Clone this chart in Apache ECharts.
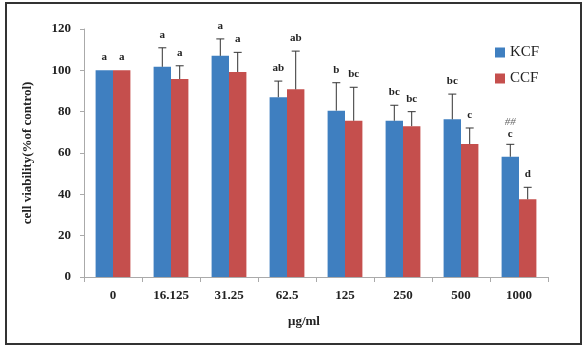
<!DOCTYPE html>
<html>
<head>
<meta charset="utf-8">
<script src="https://cdn.jsdelivr.net/npm/echarts@6/dist/echarts.min.js"></script>
<style>
  html, body { margin: 0; padding: 0; background: #fff; }
  #main { width: 587px; height: 348px; }
</style>
</head>
<body>
<div id="main"></div>
<script>
// 数据
var doses = ['0', '16.125', '31.25', '62.5', '125', '250', '500', '1000'];
var kcfValues = [100, 101.7, 107, 87, 80.5, 75.6, 76.3, 58.2];
var ccfValues = [100, 95.8, 99.2, 90.8, 75.6, 73, 64.3, 37.6];
var kcfErrors = [0, 9.2, 8.2, 7.8, 13.5, 7.5, 12.2, 6];
var ccfErrors = [0, 6.4, 9.5, 18.5, 16.2, 7, 7.8, 5.8];
var kcfLetters = ['a', 'a', 'a', 'ab', 'b', 'bc', 'bc', 'c'];
var ccfLetters = ['a', 'a', 'a', 'ab', 'bc', 'bc', 'c', 'd'];
var kcfMarks = ['', '', '', '', '', '', '', '##'];
var yTicks = [0, 20, 40, 60, 80, 100, 120];

var serif = '"Liberation Serif", "DejaVu Serif", serif';
var catGapPct = 40; // barCategoryGap

(function () {
    var chart = echarts.init(document.getElementById('main'));

    // 误差线 + 字母标注
    function errorSeries(name, values, errors, letters, marks, side) {
        var data = [];
        for (var i = 0; i < values.length; i++) {
            data.push([i, values[i], errors[i], letters[i], marks ? marks[i] : '']);
        }
        return {
            name: name + '-err',
            type: 'custom',
            z: 5,
            silent: true,
            renderItem: function (params, api) {
                var idx = api.value(0);
                var val = api.value(1);
                var err = api.value(2);
                var band = api.size([1, 0])[0];
                var barW = band * (1 - catGapPct / 100) / 2;
                var base = api.coord([idx, val]);
                var x = base[0] + side * barW / 2;
                var top = api.coord([idx, val + err])[1];
                var children = [];
                if (err > 0) {
                    children.push({
                        type: 'line',
                        shape: { x1: x, y1: base[1], x2: x, y2: top },
                        style: { stroke: '#333', lineWidth: 1 }
                    });
                    children.push({
                        type: 'line',
                        shape: { x1: x - 4, y1: top, x2: x + 4, y2: top },
                        style: { stroke: '#333', lineWidth: 1 }
                    });
                }
                var letter = api.value(3);
                var ly = top - (api.value(4) ? 10 : 13);
                children.push({
                    type: 'text',
                    style: {
                        text: letter, x: x, y: ly,
                        align: 'center', verticalAlign: 'middle',
                        font: 'bold 11px ' + serif, fill: '#222'
                    }
                });
                if (api.value(4)) {
                    children.push({
                        type: 'text',
                        style: {
                            text: api.value(4), x: x, y: ly - 12,
                            align: 'center', verticalAlign: 'middle',
                            font: 'italic 11px ' + serif, fill: '#666'
                        }
                    });
                }
                return { type: 'group', children: children };
            },
            encode: { x: 0, y: 1 },
            data: data
        };
    }

    var option = {
        animation: false,
        color: ['#3f7fc0', '#c54f4d'],
        graphic: [
            {
                type: 'rect',
                shape: { x: 6, y: 3, width: 575, height: 341 },
                style: { fill: 'none', stroke: '#333', lineWidth: 2 }
            }
        ],
        legend: {
            orient: 'vertical',
            left: 490,
            top: 40,
            itemWidth: 10,
            itemHeight: 10,
            itemGap: 11,
            icon: 'rect',
            textStyle: { fontFamily: serif, fontSize: 15, color: '#222' },
            data: ['KCF', 'CCF']
        },
        grid: { left: 84, right: 39, top: 29, bottom: 71 },
        xAxis: {
            type: 'category',
            data: doses,
            name: 'μg/ml',
            nameLocation: 'middle',
            nameGap: 38,
            nameTextStyle: { fontFamily: serif, fontSize: 13, fontWeight: 'bold', color: '#222', padding: [0, 24, 0, 0] },
            axisLine: { lineStyle: { color: '#aaa' } },
            axisTick: { show: true, length: 5, lineStyle: { color: '#aaa' } },
            axisLabel: { fontFamily: serif, fontSize: 13, fontWeight: 'bold', color: '#222', margin: 12 }
        },
        yAxis: {
            type: 'value',
            min: yTicks[0],
            max: yTicks[yTicks.length - 1],
            interval: 20,
            name: 'cell viability(%of control)',
            nameLocation: 'middle',
            nameGap: 50,
            nameTextStyle: { fontFamily: serif, fontSize: 13, fontWeight: 'bold', color: '#222' },
            axisLine: { show: true, lineStyle: { color: '#aaa' } },
            axisTick: { show: true, length: 4, lineStyle: { color: '#aaa' } },
            splitLine: { show: false },
            axisLabel: { fontFamily: serif, fontSize: 13, fontWeight: 'bold', color: '#222', margin: 13 }
        },
        series: [
            {
                name: 'KCF',
                type: 'bar',
                barGap: '0%',
                barCategoryGap: catGapPct + '%',
                data: kcfValues
            },
            {
                name: 'CCF',
                type: 'bar',
                barGap: '0%',
                barCategoryGap: catGapPct + '%',
                data: ccfValues
            },
            errorSeries('KCF', kcfValues, kcfErrors, kcfLetters, kcfMarks, -1),
            errorSeries('CCF', ccfValues, ccfErrors, ccfLetters, null, 1)
        ]
    };
    chart.setOption(option);
})();
</script>
</body>
</html>
